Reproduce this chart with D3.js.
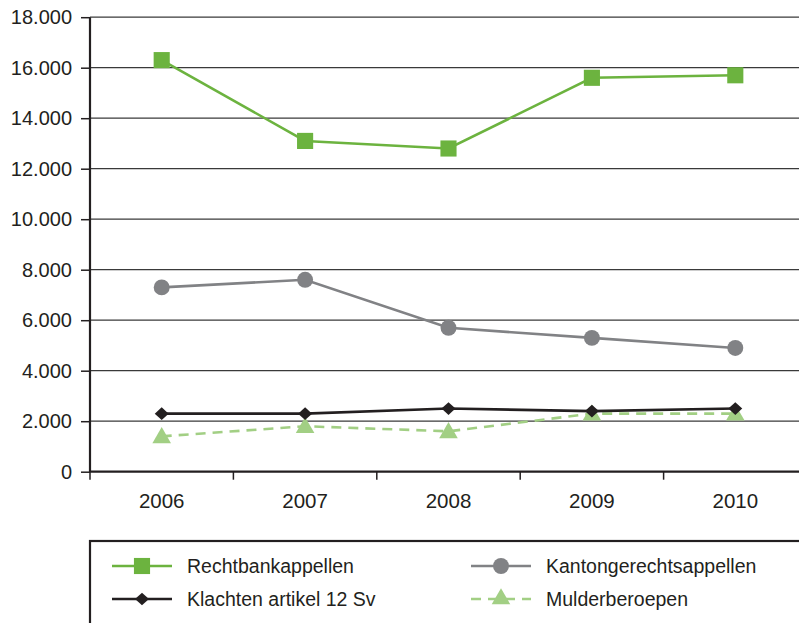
<!DOCTYPE html>
<html>
<head>
<meta charset="utf-8">
<script src="https://cdn.jsdelivr.net/npm/d3@7"></script>
<style>
  body { margin: 0; background: #fff; }
  svg { font-family: "Liberation Sans", Arial, sans-serif; }
</style>
</head>
<body>
<div id="chart"></div>
<script>
// data
const years = ['2006', '2007', '2008', '2009', '2010']
const rechtbank = [16300, 13100, 12800, 15600, 15700]
const kanton = [7300, 7600, 5700, 5300, 4900]
const klachten = [2300, 2300, 2500, 2400, 2500]
const mulder = [1400, 1800, 1600, 2300, 2300]
const yTicks = [0, 2000, 4000, 6000, 8000, 10000, 12000, 14000, 16000, 18000]

// rotated square for the flat diamond marker
const flatDiamond = {
  draw(ctx, size) {
    const r = Math.sqrt(size / 2)
    ctx.moveTo(0, -r); ctx.lineTo(r * 1.1, 0); ctx.lineTo(0, r); ctx.lineTo(-r * 1.1, 0); ctx.closePath()
  }
}

const series = [
  { name: 'Rechtbankappellen', values: rechtbank, color: '#6cb33f', symbol: d3.symbolSquare, size: 260, dash: null },
  { name: 'Kantongerechtsappellen', values: kanton, color: '#818285', symbol: d3.symbolCircle, size: 200, dash: null },
  { name: 'Klachten artikel 12 Sv', values: klachten, color: '#231f20', symbol: flatDiamond, size: 80, dash: null },
  { name: 'Mulderberoepen', values: mulder, color: '#a2cf84', symbol: d3.symbolTriangle, size: 150, dash: '10,7' }
]

const W = 799, H = 623
const svg = d3.select('#chart').append('svg')
  .attr('width', W).attr('height', H)

const x = d3.scaleBand().domain(years).range([90, 807])
const y = d3.scaleLinear().domain([0, 18000]).range([471.7, 17.2])
const fmt = d => d3.format(',')(d).replace(/,/g, '.')

// gridlines
svg.append('g')
  .selectAll('line')
  .data(yTicks.filter(d => d > 0))
  .join('line')
  .attr('x1', 90).attr('x2', W)
  .attr('y1', d => y(d)).attr('y2', d => y(d))
  .attr('stroke', '#3a3a3a').attr('stroke-width', 1.3)

// y axis
const yAxis = svg.append('g')
  .attr('transform', 'translate(90,0)')
  .call(d3.axisLeft(y).tickValues(yTicks).tickFormat(fmt).tickSize(9).tickPadding(9))
yAxis.select('.domain').remove()
yAxis.selectAll('.tick line').attr('stroke', '#231f20').attr('stroke-width', 1.5)
yAxis.selectAll('.tick text').attr('font-size', 20).attr('fill', '#231f20')
yAxis.append('line')
  .attr('x1', 0).attr('x2', 0).attr('y1', y(18000)).attr('y2', y(0))
  .attr('stroke', '#231f20').attr('stroke-width', 2.2)

// x axis
const xAxis = svg.append('g')
  .attr('transform', `translate(0,${y(0)})`)
  .call(d3.axisBottom(x).tickSize(0).tickPadding(22))
xAxis.select('.domain').remove()
xAxis.selectAll('.tick text').attr('font-size', 20.5).attr('fill', '#231f20')
xAxis.append('line')
  .attr('x1', 89).attr('x2', W).attr('y1', 0).attr('y2', 0)
  .attr('stroke', '#231f20').attr('stroke-width', 2.2)
xAxis.selectAll('.bandtick')
  .data(years)
  .join('line')
  .attr('class', 'bandtick')
  .attr('x1', d => x(d)).attr('x2', d => x(d))
  .attr('y1', 0).attr('y2', 8)
  .attr('stroke', '#231f20').attr('stroke-width', 1.5)

// lines + markers
const line = d3.line()
  .x((d, i) => x(years[i]) + x.bandwidth() / 2)
  .y(d => y(d))

const order = [3, 2, 1, 0]
order.forEach(k => {
  const s = series[k]
  const g = svg.append('g')
  g.append('path')
    .datum(s.values)
    .attr('d', line)
    .attr('fill', 'none')
    .attr('stroke', s.color)
    .attr('stroke-width', 2.6)
    .attr('stroke-dasharray', s.dash)
  g.selectAll('path.m')
    .data(s.values)
    .join('path')
    .attr('class', 'm')
    .attr('d', d3.symbol(s.symbol, s.size))
    .attr('transform', (d, i) => `translate(${x(years[i]) + x.bandwidth() / 2},${y(d) + (s.symbol === d3.symbolTriangle ? 1.5 : 0)})`)
    .attr('fill', s.color)
})

// legend
const lg = svg.append('g')
lg.append('rect')
  .attr('x', 90).attr('y', 541).attr('width', 760).attr('height', 120)
  .attr('fill', 'none').attr('stroke', '#231f20').attr('stroke-width', 2.2)

const legendPos = [
  { x: 112, y: 566 }, { x: 471, y: 566 },
  { x: 112, y: 599 }, { x: 471, y: 599 }
]
series.forEach((s, i) => {
  const p = legendPos[i]
  const it = lg.append('g').attr('transform', `translate(${p.x},${p.y})`)
  it.append('line')
    .attr('x1', 0).attr('x2', 60).attr('y1', 0).attr('y2', 0)
    .attr('stroke', s.color).attr('stroke-width', 2.6)
    .attr('stroke-dasharray', s.dash)
  it.append('path')
    .attr('d', d3.symbol(s.symbol, s.size))
    .attr('transform', 'translate(30,0)')
    .attr('fill', s.color)
  it.append('text')
    .attr('x', 75).attr('y', 0).attr('dy', '0.35em')
    .attr('font-size', 19.5).attr('fill', '#231f20')
    .text(s.name)
})
</script>
</body>
</html>
